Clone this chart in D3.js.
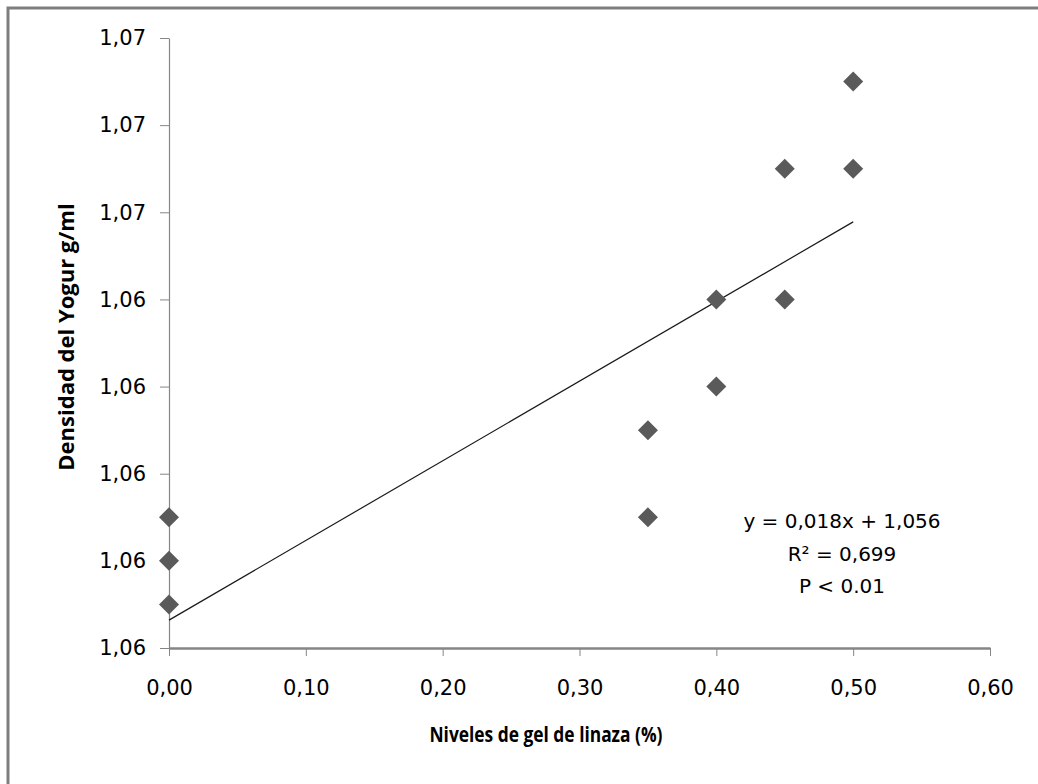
<!DOCTYPE html>
<html>
<head>
<meta charset="utf-8">
<script src="https://cdn.jsdelivr.net/npm/d3@7"></script>
<style>
  body { margin: 0; background: #fff; }
  svg { display: block; }
  .tick text { font-family: "DejaVu Sans", sans-serif; font-size: 21px; fill: #000; }
</style>
</head>
<body>
<div id="container"></div>
<script>
/*
    Chart data
*/
var niveles  = [0, 0, 0, 0.35, 0.35, 0.40, 0.40, 0.45, 0.45, 0.50, 0.50];
var densidad = [1.058, 1.057, 1.056, 1.060, 1.058, 1.063, 1.061, 1.066, 1.063, 1.068, 1.066];

var xTicks = [0, 0.1, 0.2, 0.3, 0.4, 0.5, 0.6];
var xTickLabels = ["0,00", "0,10", "0,20", "0,30", "0,40", "0,50", "0,60"];
var yTicks = [1.055, 1.057, 1.059, 1.061, 1.063, 1.065, 1.067, 1.069];
var yTickLabels = ["1,06", "1,06", "1,06", "1,06", "1,06", "1,07", "1,07", "1,07"];

// trendline end points as drawn (Excel linear fit)
var trendX = [0, 0.5];
var trendY = [1.05564, 1.06478];

var equationLines = ["y = 0,018x + 1,056", "R² = 0,699", "P < 0.01"];

var width = 1038, height = 784;
var plotLeft = 169, plotRight = 990, plotTop = 38, plotBottom = 648;

var svg = d3.select("#container").append("svg")
    .attr("width", width)
    .attr("height", height);

// outer chart frame (only top and left edges visible)
svg.append("rect")
    .attr("x", 8).attr("y", 8)
    .attr("width", width + 20).attr("height", height + 20)
    .attr("fill", "none")
    .attr("stroke", "#7f7f7f")
    .attr("stroke-width", 3);

var x = d3.scaleLinear().domain([0, 0.6]).range([plotLeft, plotRight]);
var y = d3.scaleLinear().domain([1.055, 1.069]).range([plotBottom, plotTop]);

/*
    Axes
*/
var xAxis = d3.axisBottom(x)
    .tickValues(xTicks)
    .tickFormat(function (d, i) { return xTickLabels[i]; })
    .tickSize(8)
    .tickSizeOuter(0)
    .tickPadding(24);

var yAxis = d3.axisLeft(y)
    .tickValues(yTicks)
    .tickFormat(function (d, i) { return yTickLabels[i]; })
    .tickSize(9)
    .tickSizeOuter(0)
    .tickPadding(14);

var gy = svg.append("g")
    .attr("transform", "translate(" + plotLeft + ",0)")
    .call(yAxis);
gy.select(".domain").attr("stroke", "#868686").attr("stroke-width", 1.2);
gy.selectAll(".tick line").attr("stroke", "#868686");

var gx = svg.append("g")
    .attr("transform", "translate(0," + plotBottom + ")")
    .call(xAxis);
gx.select(".domain").attr("stroke", "#868686").attr("stroke-width", 2.4);
gx.selectAll(".tick line").attr("stroke", "#868686");

/*
    Axis titles
*/
svg.append("text")
    .attr("x", 546).attr("y", 742)
    .attr("text-anchor", "middle")
    .attr("textLength", 233)
    .attr("lengthAdjust", "spacingAndGlyphs")
    .style("font-family", "'Open Sans', sans-serif")
    .style("font-weight", "bold")
    .style("font-size", "21px")
    .text("Niveles de gel de linaza (%)");

svg.append("text")
    .attr("transform", "translate(74,337) rotate(-90)")
    .attr("text-anchor", "middle")
    .style("font-family", "'Open Sans', sans-serif")
    .style("font-weight", "bold")
    .style("font-size", "22px")
    .text("Densidad del Yogur g/ml");

/*
    Trendline
*/
var line = d3.line()
    .x(function (d) { return x(d[0]); })
    .y(function (d) { return y(d[1]); });

svg.append("path")
    .datum(d3.zip(trendX, trendY))
    .attr("d", line)
    .attr("fill", "none")
    .attr("stroke", "#1a1a1a")
    .attr("stroke-width", 1.2);

/*
    Points: diamond markers
*/
var diamond = d3.symbol().type(d3.symbolSquare).size(200);

svg.selectAll(".point")
    .data(d3.zip(niveles, densidad))
    .enter().append("path")
    .attr("class", "point")
    .attr("d", diamond)
    .attr("transform", function (d) {
        return "translate(" + x(d[0]) + "," + y(d[1]) + ") rotate(45)";
    })
    .attr("fill", "#5a5a5a");

/*
    Equation label
*/
var eq = svg.append("text")
    .attr("text-anchor", "middle")
    .style("font-family", "'DejaVu Sans', sans-serif")
    .style("font-size", "20px")
    .attr("fill", "#000");

eq.selectAll("tspan")
    .data(equationLines)
    .enter().append("tspan")
    .attr("x", 842)
    .attr("y", function (d, i) { return 528 + i * 32.5; })
    .text(function (d) { return d; });
</script>
</body>
</html>
